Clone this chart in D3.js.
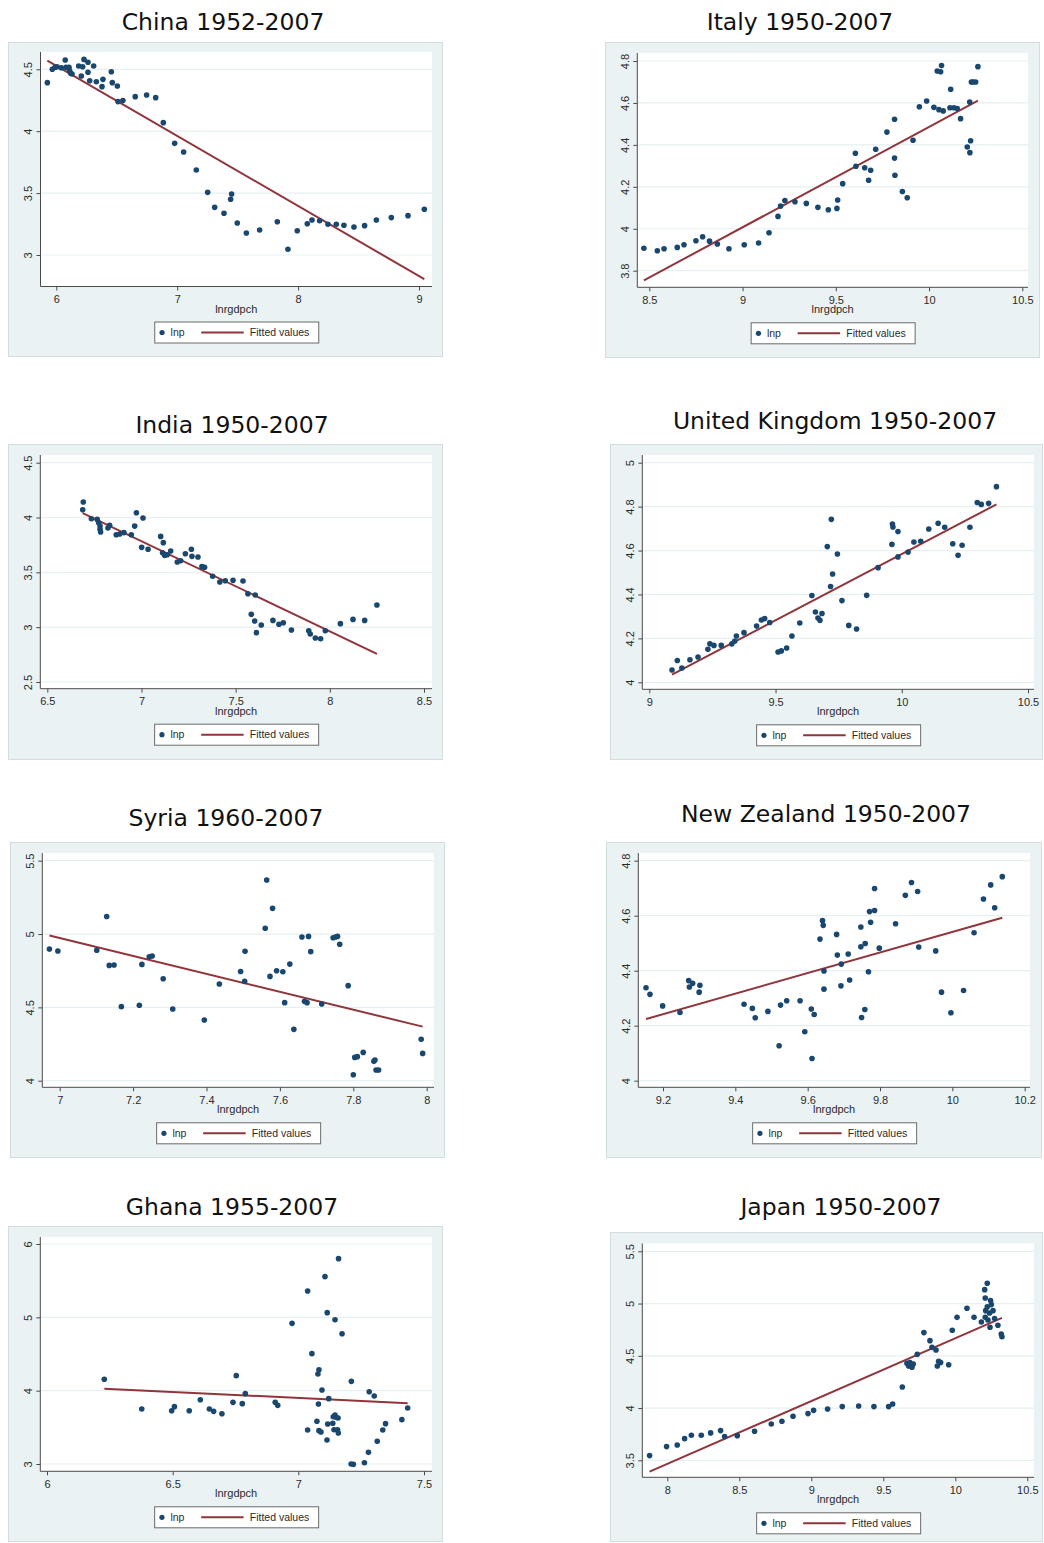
<!DOCTYPE html>
<html>
<head>
<meta charset="utf-8">
<script src="https://cdn.jsdelivr.net/npm/d3@7"></script>
<style>
  body { margin: 0; background: #ffffff; }
  svg { display: block; }
</style>
</head>
<body>
<svg id="chart" width="1044" height="1543"></svg>
<script>
// ---------------- data ----------------
const panelTitles = [
  "China 1952-2007", "Italy 1950-2007",
  "India 1950-2007", "United Kingdom 1950-2007",
  "Syria 1960-2007", "New Zealand 1950-2007",
  "Ghana 1955-2007", "Japan 1950-2007"
];
const xAxisTitle = "lnrgdpch";
const legendLabels = ["lnp", "Fitted values"];

// China
const chinaGdp = [5.926,5.967,5.990,6.006,6.041,6.074,6.080,6.105,6.110,6.119,6.130,6.185,6.207,6.218,6.229,6.262,6.262,6.276,6.309,6.331,6.378,6.386,6.455,6.463,6.505,6.510,6.551,6.653,6.747,6.822,6.885,6.979,7.053,7.158,7.252,7.310,7.387,7.442,7.450,7.497,7.572,7.682,7.828,7.916,7.993,8.076,8.115,8.178,8.247,8.316,8.379,8.462,8.550,8.647,8.771,8.909,9.044];
const chinaP = [4.392,4.500,4.516,4.520,4.513,4.575,4.516,4.516,4.490,4.468,4.462,4.527,4.446,4.520,4.580,4.557,4.476,4.408,4.527,4.400,4.360,4.419,4.480,4.392,4.365,4.239,4.247,4.279,4.293,4.271,4.069,3.902,3.832,3.687,3.506,3.385,3.337,3.450,3.493,3.258,3.178,3.202,3.269,3.046,3.196,3.253,3.283,3.277,3.248,3.248,3.240,3.226,3.237,3.283,3.302,3.318,3.369];
const chinaFit = [7.924, -0.566];          // intercept, slope
const chinaXTicks = [6, 7, 8, 9];
const chinaYTicks = [3, 3.5, 4, 4.5];

// Italy
const italyGdp = [8.471,8.543,8.579,8.650,8.686,8.750,8.786,8.823,8.865,8.927,9.009,9.086,9.142,9.190,9.204,9.227,9.281,9.342,9.404,9.460,9.506,9.510,9.537,9.605,9.608,9.655,9.676,9.687,9.714,9.774,9.815,9.815,9.817,9.857,9.883,9.914,9.948,9.987,10.026,10.044,10.053,10.062,10.067,10.076,10.112,10.116,10.134,10.151,10.169,10.205,10.219,10.223,10.218,10.227,10.236,10.250,10.262];
const italyP = [3.907,3.895,3.905,3.911,3.924,3.943,3.962,3.941,3.927,3.905,3.924,3.932,3.981,4.059,4.108,4.135,4.129,4.121,4.102,4.091,4.097,4.137,4.215,4.360,4.298,4.291,4.231,4.279,4.379,4.461,4.337,4.522,4.255,4.178,4.148,4.422,4.582,4.609,4.579,4.752,4.568,4.749,4.778,4.562,4.577,4.665,4.577,4.573,4.525,4.390,4.363,4.420,4.604,4.700,4.700,4.700,4.773];
const italyFit = [-0.304, 0.479];
const italyXTicks = [8.5, 9, 9.5, 10, 10.5];
const italyYTicks = [3.8, 4, 4.2, 4.4, 4.6, 4.8];

// India
const indiaGdp = [6.691,6.688,6.734,6.765,6.773,6.780,6.780,6.783,6.822,6.831,6.866,6.884,6.907,6.946,6.964,6.973,7.001,7.008,7.035,7.102,7.116,7.112,7.123,7.137,7.155,7.190,7.208,7.233,7.265,7.268,7.300,7.321,7.335,7.378,7.416,7.445,7.486,7.539,7.565,7.604,7.583,7.601,7.610,7.636,7.698,7.730,7.753,7.796,7.888,7.896,7.923,7.951,7.976,8.056,8.123,8.185,8.250];
const indiaP = [4.141,4.071,3.989,3.983,3.953,3.922,3.892,3.868,3.904,3.929,3.843,3.850,3.862,3.843,3.922,4.044,3.728,3.995,3.710,3.828,3.771,3.679,3.655,3.661,3.695,3.594,3.606,3.670,3.710,3.646,3.640,3.552,3.546,3.464,3.412,3.424,3.427,3.421,3.305,3.293,3.117,3.056,2.950,3.020,3.062,3.026,3.041,2.974,2.968,2.938,2.901,2.895,2.968,3.032,3.071,3.062,3.202];
const indiaFit = [9.538, -0.822];
const indiaXTicks = [6.5, 7, 7.5, 8, 8.5];
const indiaYTicks = [2.5, 3, 3.5, 4, 4.5];

// United Kingdom
const ukGdp = [9.090,9.111,9.129,9.161,9.193,9.232,9.240,9.256,9.285,9.327,9.338,9.345,9.375,9.425,9.444,9.457,9.477,9.510,9.523,9.544,9.565,9.596,9.644,9.658,9.668,9.676,9.684,9.705,9.718,9.721,9.726,9.745,9.763,9.790,9.821,9.861,9.906,9.961,9.963,9.965,9.985,9.985,10.025,10.048,10.075,10.107,10.144,10.170,10.202,10.223,10.239,10.270,10.299,10.315,10.344,10.375];
const ukP = [4.056,4.099,4.065,4.103,4.115,4.150,4.175,4.168,4.168,4.175,4.187,4.211,4.226,4.256,4.284,4.290,4.272,4.138,4.143,4.156,4.211,4.270,4.395,4.320,4.293,4.282,4.313,4.618,4.436,4.742,4.493,4.584,4.372,4.259,4.243,4.396,4.522,4.628,4.721,4.707,4.687,4.571,4.593,4.639,4.642,4.698,4.724,4.706,4.631,4.578,4.624,4.706,4.819,4.810,4.815,4.891];
const ukFit = [-1.446, 0.603];
const ukXTicks = [9, 9.5, 10, 10.5];
const ukYTicks = [4, 4.2, 4.4, 4.6, 4.8, 5];

// Syria
const syriaGdp = [6.972,6.995,7.101,7.128,7.135,7.148,7.168,7.217,7.224,7.244,7.252,7.282,7.308,7.394,7.435,7.493,7.504,7.505,7.560,7.564,7.573,7.580,7.591,7.608,7.613,7.627,7.638,7.660,7.667,7.674,7.678,7.684,7.714,7.745,7.751,7.757,7.763,7.786,7.800,7.804,7.811,7.827,7.856,7.859,7.862,7.869,7.985,7.989];
const syriaP = [4.898,4.884,4.889,5.120,4.786,4.789,4.505,4.514,4.793,4.845,4.850,4.695,4.489,4.414,4.659,4.745,4.677,4.882,5.039,5.368,4.711,5.175,4.750,4.743,4.532,4.795,4.350,4.980,4.541,4.532,4.984,4.880,4.523,4.975,4.980,4.984,4.930,4.648,4.041,4.159,4.164,4.193,4.132,4.141,4.073,4.073,4.282,4.186];
const syriaFit = [9.250, -0.611];
const syriaXTicks = [7, 7.2, 7.4, 7.6, 7.8, 8];
const syriaYTicks = [4, 4.5, 5, 5.5];

// New Zealand
const nzGdp = [9.153,9.164,9.199,9.247,9.271,9.273,9.282,9.300,9.302,9.424,9.447,9.455,9.490,9.521,9.525,9.542,9.579,9.592,9.610,9.612,9.618,9.634,9.641,9.643,9.645,9.645,9.680,9.682,9.693,9.692,9.712,9.716,9.747,9.747,9.749,9.758,9.759,9.768,9.771,9.774,9.785,9.785,9.798,9.843,9.870,9.887,9.904,9.907,9.954,9.970,9.996,10.031,10.060,10.086,10.106,10.117,10.138];
const nzP = [4.338,4.314,4.272,4.248,4.364,4.341,4.354,4.322,4.347,4.278,4.263,4.229,4.252,4.127,4.275,4.291,4.291,4.178,4.261,4.081,4.241,4.515,4.582,4.565,4.399,4.333,4.532,4.457,4.424,4.345,4.461,4.366,4.559,4.487,4.230,4.259,4.499,4.396,4.615,4.576,4.619,4.699,4.482,4.571,4.674,4.721,4.688,4.486,4.472,4.322,4.247,4.328,4.538,4.661,4.712,4.629,4.742];
const nzFit = [0.801, 0.374];
const nzXTicks = [9.2, 9.4, 9.6, 9.8, 10, 10.2];
const nzYTicks = [4, 4.2, 4.4, 4.6, 4.8];

// Ghana
const ghanaGdp = [6.228,6.377,6.496,6.507,6.566,6.610,6.646,6.663,6.696,6.740,6.753,6.777,6.789,6.908,6.918,6.975,7.037,7.037,7.054,7.074,7.078,7.080,7.082,7.082,7.090,7.094,7.106,7.114,7.115,7.117,7.121,7.137,7.139,7.142,7.146,7.146,7.150,7.156,7.158,7.159,7.160,7.174,7.210,7.219,7.211,7.263,7.279,7.282,7.302,7.314,7.336,7.347,7.412,7.435];
const ghanaP = [4.155,3.750,3.727,3.782,3.727,3.877,3.750,3.718,3.686,3.841,4.205,3.823,3.959,3.841,3.800,4.918,5.359,3.464,4.505,3.582,4.227,3.818,4.286,3.455,3.436,4.009,5.555,3.327,5.064,3.545,3.891,3.555,3.645,3.468,3.668,4.968,3.636,3.468,3.627,3.423,5.800,4.777,3.000,2.995,4.127,3.018,3.159,3.986,3.927,3.309,3.464,3.550,3.605,3.764];
const ghanaFit = [5.055, -0.165];
const ghanaXTicks = [6, 6.5, 7, 7.5];
const ghanaYTicks = [3, 4, 5, 6];

// Japan
const japanGdp = [7.877,7.995,8.069,8.120,8.167,8.236,8.301,8.370,8.398,8.486,8.606,8.722,8.796,8.873,8.977,9.016,9.113,9.215,9.329,9.435,9.537,9.565,9.632,9.664,9.676,9.685,9.699,9.708,9.736,9.782,9.824,9.838,9.866,9.875,9.884,9.898,9.954,9.979,10.012,10.081,10.130,10.181,10.204,10.208,10.211,10.208,10.222,10.222,10.227,10.238,10.245,10.250,10.241,10.262,10.273,10.296,10.319,10.324];
const japanP = [3.545,3.631,3.647,3.707,3.739,3.739,3.762,3.784,3.727,3.736,3.778,3.848,3.873,3.921,3.947,3.978,3.991,4.014,4.020,4.014,4.014,4.039,4.202,4.428,4.403,4.435,4.390,4.422,4.514,4.722,4.645,4.581,4.556,4.403,4.447,4.435,4.415,4.744,4.868,4.955,4.868,4.824,5.133,5.053,4.932,4.868,5.194,4.970,4.843,4.910,5.028,4.990,4.773,4.932,4.856,4.792,4.709,4.683];
const japanFit = [-1.342, 0.601];
const japanXTicks = [8, 8.5, 9, 9.5, 10, 10.5];
const japanYTicks = [3.5, 4, 4.5, 5, 5.5];

// ---------------- layout ----------------
// box: outer graph region; plot: inner white region (axis lines on l/b);
// xr/yr: pixel positions of the first and last tick on each axis;
// title: centre of the panel heading.
const panels = [
  { x: chinaGdp, y: chinaP, fit: chinaFit, xt: chinaXTicks, yt: chinaYTicks,
    box: [8, 42, 443, 357], plot: [40.5, 52, 432, 286.5], xr: [56.3, 419], yr: [255, 69.3], title: [223, 22] },
  { x: italyGdp, y: italyP, fit: italyFit, xt: italyXTicks, yt: italyYTicks,
    box: [605, 42, 1040, 358], plot: [637.3, 53, 1028, 287.3], xr: [649.3, 1022.3], yr: [270.7, 61], title: [800, 22] },
  { x: indiaGdp, y: indiaP, fit: indiaFit, xt: indiaXTicks, yt: indiaYTicks,
    box: [8, 444, 443, 760], plot: [40.3, 455, 432, 688.7], xr: [47.3, 424], yr: [682, 462.7], title: [232, 425] },
  { x: ukGdp, y: ukP, fit: ukFit, xt: ukXTicks, yt: ukYTicks,
    box: [610, 444, 1043, 760], plot: [642.3, 455, 1034, 689.3], xr: [649.3, 1028], yr: [682.3, 462.7], title: [835, 421] },
  { x: syriaGdp, y: syriaP, fit: syriaFit, xt: syriaXTicks, yt: syriaYTicks,
    box: [10, 842, 445, 1158], plot: [42.3, 853, 434, 1087.3], xr: [59.7, 426.7], yr: [1080.7, 860.7], title: [226, 818] },
  { x: nzGdp, y: nzP, fit: nzFit, xt: nzXTicks, yt: nzYTicks,
    box: [606, 842, 1042, 1158], plot: [638.3, 853, 1030, 1087.3], xr: [663, 1024.7], yr: [1080.7, 860.7], title: [826, 814] },
  { x: ghanaGdp, y: ghanaP, fit: ghanaFit, xt: ghanaXTicks, yt: ghanaYTicks,
    box: [8, 1226, 443, 1542], plot: [40.3, 1237, 432, 1471.3], xr: [47, 424], yr: [1464, 1244], title: [232, 1207] },
  { x: japanGdp, y: japanP, fit: japanFit, xt: japanXTicks, yt: japanYTicks,
    box: [610, 1232, 1043, 1542], plot: [642.3, 1243.5, 1034, 1477.3], xr: [667.3, 1027.3], yr: [1460.3, 1251.3], title: [841, 1207] }
];

const C = {
  region: "#eaf2f3",
  border: "#d3dcde",
  grid: "#e6eff1",
  axis: "#4a4a4a",
  text: "#2b2b2b",
  dot: "#1a476f",
  fit: "#90353b"
};
const tickFont = "'Liberation Sans', Arial, sans-serif";

const svg = d3.select("#chart");

panels.forEach((p, i) => {
  const [bx0, by0, bx1, by1] = p.box;
  const [pl, pt, pr, pb] = p.plot;
  const g = svg.append("g").attr("class", "panel");

  // heading
  g.append("text")
    .attr("x", p.title[0]).attr("y", p.title[1])
    .attr("dy", "0.36em")
    .attr("text-anchor", "middle")
    .style("font-family", "'DejaVu Sans', Verdana, sans-serif")
    .style("font-size", "23.5px")
    .style("fill", "#111")
    .text(panelTitles[i]);

  // graph region and plot region
  g.append("rect")
    .attr("x", bx0 + 0.5).attr("y", by0 + 0.5)
    .attr("width", bx1 - bx0 - 1).attr("height", by1 - by0 - 1)
    .attr("fill", C.region).attr("stroke", C.border).attr("stroke-width", 1);
  g.append("rect")
    .attr("x", pl).attr("y", pt)
    .attr("width", pr - pl).attr("height", pb - pt)
    .attr("fill", "#ffffff");

  const xs = d3.scaleLinear().domain([p.xt[0], p.xt[p.xt.length - 1]]).range(p.xr);
  const ys = d3.scaleLinear().domain([p.yt[0], p.yt[p.yt.length - 1]]).range(p.yr);

  // horizontal grid lines
  g.append("g").selectAll("line").data(p.yt).join("line")
    .attr("x1", pl + 1).attr("x2", pr)
    .attr("y1", d => ys(d)).attr("y2", d => ys(d))
    .attr("stroke", C.grid).attr("stroke-width", 1.2);

  // x axis
  const xAxis = g.append("g").attr("transform", `translate(0,${pb})`)
    .call(d3.axisBottom(xs).tickValues(p.xt).tickSize(4).tickPadding(4.5)
      .tickFormat(d => String(d)).tickSizeOuter(0));
  xAxis.select(".domain").remove();
  xAxis.selectAll("line").attr("stroke", C.axis);
  xAxis.selectAll("text").style("font-family", tickFont).style("font-size", "11px").attr("fill", C.text);
  g.append("line").attr("x1", pl).attr("x2", pr).attr("y1", pb).attr("y2", pb)
    .attr("stroke", C.axis).attr("stroke-width", 1);

  // y axis with vertical labels
  const yAxis = g.append("g").attr("transform", `translate(${pl},0)`)
    .call(d3.axisLeft(ys).tickValues(p.yt).tickSize(4)
      .tickFormat(d => String(d)).tickSizeOuter(0));
  yAxis.select(".domain").remove();
  yAxis.selectAll("line").attr("stroke", C.axis);
  yAxis.selectAll("text")
    .attr("x", 0).attr("y", 0).attr("dy", 0)
    .attr("transform", "translate(-8.5,0) rotate(-90)")
    .attr("text-anchor", "middle")
    .style("font-family", tickFont).style("font-size", "11px").attr("fill", C.text);
  g.append("line").attr("x1", pl).attr("x2", pl).attr("y1", pt).attr("y2", pb)
    .attr("stroke", C.axis).attr("stroke-width", 1);

  // axis title
  const cx = (pl + pr) / 2;
  g.append("text")
    .attr("x", cx).attr("y", pb + 26)
    .attr("text-anchor", "middle")
    .style("font-family", tickFont).style("font-size", "11px")
    .attr("fill", C.text)
    .text(xAxisTitle);

  // fitted values
  const xMin = d3.min(p.x), xMax = d3.max(p.x);
  const line = d3.line().x(d => xs(d)).y(d => ys(p.fit[0] + p.fit[1] * d));
  g.append("path")
    .attr("d", line([xMin, xMax]))
    .attr("fill", "none").attr("stroke", C.fit).attr("stroke-width", 2);

  // observations
  g.append("g").selectAll("circle").data(p.x.map((v, k) => [v, p.y[k]])).join("circle")
    .attr("cx", d => xs(d[0])).attr("cy", d => ys(d[1]))
    .attr("r", 2.8).attr("fill", C.dot);

  // legend
  const lw = 164, lh = 21, lx = cx - lw / 2, ly = pb + 35;
  const lg = g.append("g").attr("transform", `translate(${lx},${ly})`);
  lg.append("rect").attr("x", 0.5).attr("y", 0.5).attr("width", lw).attr("height", lh)
    .attr("fill", "#ffffff").attr("stroke", "#6a6a6a").attr("stroke-width", 1);
  lg.append("circle").attr("cx", 7.8).attr("cy", lh / 2 + 0.5).attr("r", 2.6).attr("fill", C.dot);
  lg.append("line").attr("x1", 47).attr("x2", 89.5).attr("y1", lh / 2 + 0.5).attr("y2", lh / 2 + 0.5)
    .attr("stroke", C.fit).attr("stroke-width", 2);
  lg.append("text").attr("x", 16.3).attr("y", lh / 2 + 4.3)
    .style("font-family", tickFont).style("font-size", "10.5px").attr("fill", C.text)
    .text(legendLabels[0]);
  lg.append("text").attr("x", 95.6).attr("y", lh / 2 + 4.3)
    .style("font-family", tickFont).style("font-size", "10.5px").attr("fill", C.text)
    .text(legendLabels[1]);
});
</script>
</body>
</html>
